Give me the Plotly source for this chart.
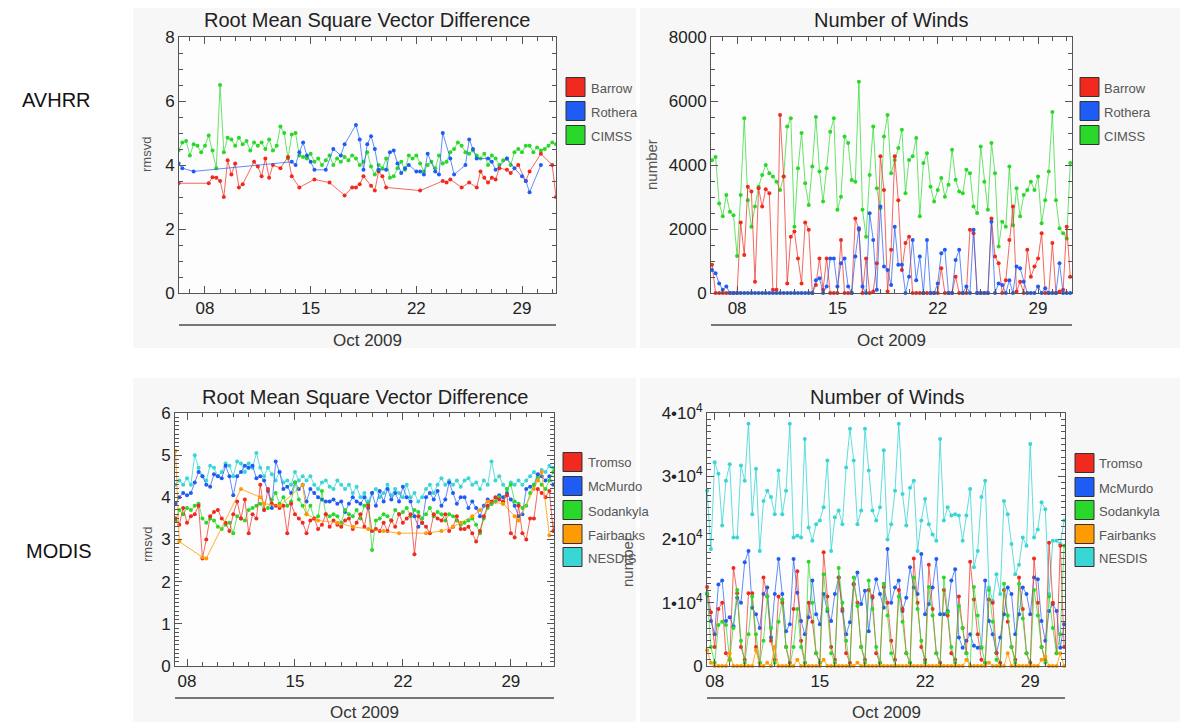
import plotly.graph_objects as go
import pandas as pd
from datetime import datetime, timedelta

# ------------------------------------------------------------------ DATA
# AVHRR, 6-hourly from 2009-10-06 06Z to 2009-10-31 06Z (101 samples)
avhrr_time = pd.date_range("2009-10-06 06:00", periods=101, freq="6h")

avhrr_barrow_rmsvd = [
    3.43, None, None,
    None, None, None, None,
    None, 3.43, 3.62, 3.6,
    3.5, 3.0, 4.15, 3.7,
    4.05, 3.3, 3.4, None,
    None, 4.1, 3.95, 3.65,
    4.2, 3.6, 4.0, None,
    3.9, None, 4.25, 3.65,
    None, 3.3, None, None,
    None, 3.55, None, None,
    None, 3.45, None, None,
    None, 3.05, None, 3.3,
    3.3, 3.4, 3.65, None,
    3.35, 3.2, 3.8, 3.65,
    3.3, None, None, None,
    None, None, None, None,
    None, 3.2, None, None,
    None, None, None, 3.5,
    3.45, 3.55, None, None,
    3.3, None, 3.45, None,
    3.3, 3.8, 3.6, 3.45,
    3.6, 3.55, 3.9, None,
    3.85, 3.75, None, 4.0,
    None, 3.5, 3.8, None,
    None, 4.35, None, None,
    4.0, 3.0,
]
avhrr_rothera_rmsvd = [
    4.05, 3.9, None,
    None, 3.8, None, None,
    None, None, None, None,
    None, None, None, None,
    None, None, None, None,
    None, None, None, None,
    None, None, None, None,
    None, None, None, 4.1,
    4.0, 4.4, 4.7, 4.3,
    4.1, 3.85, None, None,
    3.85, None, 4.5, None,
    4.3, 4.65, None, None,
    5.25, 4.8, 3.85, 4.65,
    4.9, 4.5, 3.85, None,
    3.85, 4.4, 4.45, 4.05,
    3.75, 3.9, 4.0, None,
    3.8, 3.8, 3.7, 4.35,
    None, 3.8, 3.7, 5.0,
    None, 4.2, 3.7, None,
    None, 4.0, 4.8, 4.5,
    4.2, None, None, 4.2,
    4.1, 3.85, None, None,
    4.2, None, 3.9, None,
    3.65, 3.5, 3.15, None,
    None, 4.0, None, None,
    None, None,
]
avhrr_cimss_rmsvd = [
    4.45, 4.7, 4.75,
    4.3, 4.65, 4.6, 4.4,
    4.6, 4.92, 4.45, 3.9,
    6.5, 4.4, 4.85, 4.8,
    4.6, 4.85, 4.65, 4.75,
    4.45, 4.7, 4.6, 4.7,
    4.5, 4.8, 4.45, 4.6,
    5.2, 5.0, 4.2, 4.95,
    5.0, 4.3, 4.25, 4.2,
    4.35, 4.1, 4.2, 4.0,
    4.15, 4.3, 4.0, 4.2,
    4.1, 4.25, 4.15, 4.3,
    4.2, 4.0, 4.1, 4.4,
    3.95, 3.7, 4.0, 3.9,
    4.2, 3.6, 3.65, 3.9,
    4.1, 3.85, 4.3, 4.2,
    4.3, 4.05, 3.8, 4.0,
    4.1, 3.9, 4.3, 4.05,
    4.1, 4.4, 4.5, 4.7,
    4.6, 4.4, 4.35, 4.45,
    4.3, 4.2, 4.35, 4.0,
    4.3, 4.2, 4.0, 4.15,
    4.2, 4.0, 4.4, 4.5,
    4.4, 4.6, 4.6, 4.4,
    4.55, 4.45, 4.5, 4.6,
    4.7, 4.65,
]

avhrr_barrow_num = [
    880, 0, 0,
    0, 0, 0, 0,
    0, 2200, 1190, 3320,
    3170, 350, 3270, 2700,
    3240, 3120, 100, 100,
    5560, 3640, 300, 1760,
    1920, 1080, 300, 2200,
    1980, 0, 250, 1080,
    100, 1080, 0, 0,
    0, 1660, 0, 0,
    0, 2330, 1980, 0,
    1080, 0, 50, 930,
    4270, 3220, 50, 1350,
    4270, 2900, 720, 1560,
    1760, 0, 0, 0,
    0, 0, 0, 0,
    0, 770, 0, 0,
    0, 510, 0, 0,
    0, 1980, 1870, 0,
    0, 0, 0, 2330,
    1140, 930, 0, 400,
    1660, 2700, 50, 350,
    0, 1350, 510, 830,
    1080, 1870, 0, 0,
    1560, 0, 50, 100,
    2070, 510,
]
avhrr_rothera_num = [
    720, 620, 300,
    100, 200, 0, 0,
    0, 0, 0, 0,
    0, 0, 0, 0,
    0, 0, 0, 0,
    0, 0, 0, 0,
    0, 0, 0, 0,
    0, 0, 400, 460,
    0, 200, 1080, 1080,
    200, 930, 1080, 200,
    0, 1140, 2020, 200,
    0, 2490, 1660, 100,
    2700, 830, 720, 250,
    2070, 880, 880, 0,
    510, 1660, 400, 1140,
    0, 1660, 0, 0,
    300, 1240, 1350, 0,
    0, 1030, 1350, 0,
    200, 0, 1980, 0,
    0, 0, 0, 2230,
    0, 300, 250, 0,
    400, 0, 830, 770,
    350, 0, 0, 0,
    200, 0, 150, 0,
    0, 0, 930, 0,
    0, 0,
]
avhrr_cimss_num = [
    4150, 4250, 2800,
    2400, 3060, 2540, 2430,
    1160, 3060, 5460, 2900,
    2070, 2700, 3320, 3690,
    4000, 3740, 3640, 3480,
    3220, 3640, 5200, 5460,
    2070, 3900, 5000, 3430,
    2750, 3950, 5500, 3800,
    2860, 3900, 5040, 5460,
    2600, 3010, 4890, 4690,
    3530, 3480, 6600, 2600,
    1760, 3690, 5200, 3270,
    2650, 4890, 5560, 3740,
    4160, 4530, 5100, 3120,
    4160, 4270, 4840, 2400,
    4060, 4370, 3320, 2860,
    3220, 3590, 3010, 3380,
    4480, 3540, 3170, 3120,
    3850, 3740, 2700, 2500,
    4580, 3480, 2600, 4690,
    3740, 1450, 2230, 2070,
    3950, 2120, 3270, 2400,
    3060, 3220, 3480, 3220,
    3640, 2180, 2900, 3800,
    5660, 2900, 2020, 1870,
    1700, 4060,
]

# MODIS rmsvd, 6-hourly from 2009-10-07 06Z (100 samples)
modis_rms_time = pd.date_range("2009-10-07 06:00", periods=100, freq="6h")

modis_tromso_rmsvd = [
    3.5, 3.35, 3.75, 3.4, 3.55, 3.6, 3.8, 2.55, 3.0, 3.55,
    3.65, 3.7, 3.5, 3.4, 3.2, 3.6, 3.9, 3.5, 3.95, 3.15,
    3.6, 3.5, 4.3, 3.7, 4.2, 3.85, 3.8, 3.75, 3.8, 3.15,
    3.85, 3.6, 3.5, 3.4, 3.15, 3.45, 3.5, 3.25, 3.35, 3.6,
    3.3, 3.45, 3.35, 3.3, 3.45, 3.5, 3.25, 3.4, 3.6, 3.3,
    3.8, 3.2, 3.25, 3.2, 3.4, 3.2, 3.45, 3.3, 3.6, 3.4,
    3.5, 3.6, 2.65, 3.55, 3.4, 3.3, 3.15, 3.6, 3.5, 3.45,
    3.6, 3.2, 3.3, 3.55, 3.25, 3.25, 3.3, 3.15, 2.95, 3.2,
    3.55, 3.8, 3.9, 4.0, 3.95, 3.9, 4.05, 3.15, 3.05, 3.8,
    3.15, 3.0, 3.5, 3.5, 4.2, 4.1, 4.0, 4.15, 3.2, 4.0,
]
modis_mcmurdo_rmsvd = [
    3.85, 4.0, 4.1, 4.05, 4.1, 4.35, 4.6, 4.5, 4.3, 4.25,
    4.55, 4.5, 4.45, 4.75, 4.5, 4.05, 4.5, 4.6, 4.75, 4.7,
    4.75, 4.45, 4.5, 4.4, 4.15, 3.75, 4.85, 4.6, 4.2, 4.25,
    4.1, 4.35, 4.2, 4.3, 3.9, 4.2, 4.1, 4.0, 3.95, 3.9,
    3.9, 3.95, 3.85, 3.9, 3.65, 3.85, 4.0, 3.9, 3.85, 4.0,
    3.75, 4.1, 3.8, 4.15, 3.9, 4.2, 3.95, 4.1, 3.9, 4.25,
    4.0, 3.9, 3.55, 3.3, 3.4, 4.0, 4.1, 3.95, 4.15, 3.8,
    3.95, 4.35, 4.1, 3.85, 4.0, 4.0, 3.75, 3.9, 3.75, 3.55,
    3.8, 3.95, 3.85, 3.9, 4.05, 4.0, 4.1, 3.95, 3.8, 3.55,
    3.6, 4.2, 4.25, 4.3, 4.55, 4.5, 4.4, 4.5, 4.3, 4.2,
]
modis_sodankyla_rmsvd = [
    3.45, 3.7, 3.6, 3.75, 3.7, 3.8, 3.85, 3.5, 3.4, 3.5,
    3.45, 3.3, 3.25, 3.35, 3.4, 3.15, 3.55, 3.5, 3.45, 3.7,
    3.75, 3.8, 3.85, 3.7, 3.75, 3.95, 4.1, 3.85, 4.0, 3.8,
    3.9, 4.35, 3.95, 3.8, 3.6, 3.8, 3.5, 3.55, 4.15, 3.6,
    3.55, 3.6, 3.55, 3.4, 3.7, 3.6, 3.55, 3.7, 3.5, 3.8,
    3.85, 2.75, 3.45, 3.5, 3.6, 3.55, 3.45, 3.7, 3.6, 3.65,
    3.75, 3.55, 3.7, 3.65, 3.5, 3.6, 3.75, 3.55, 3.65, 3.6,
    3.45, 3.6, 3.55, 3.45, 3.35, 3.4, 3.45, 3.5, 3.35, 3.15,
    3.5, 3.75, 3.85, 3.9, 4.0, 3.85, 4.2, 4.3, 3.9, 3.85,
    3.75, 3.8, 4.1, 4.3, 4.45, 4.3, 4.2, 4.4, 4.6, 5.0,
]
modis_fairbanks_rmsvd = [
    5.1, 2.95, None, None, None, None, None, 2.58, 2.55, None,
    None, None, None, None, None, None, None, 4.2, None, None,
    None, None, 4.0, 3.85, None, None, None, 3.8, None, None,
    None, None, None, 4.3, 3.6, None, None, 3.45, None, None,
    None, None, 3.4, None, None, None, 3.3, None, None, None,
    3.25, None, None, None, 3.2, None, None, None, 3.15, None,
    None, None, None, None, None, 3.15, None, None, None, 3.2,
    None, None, 3.3, None, 3.4, None, None, 3.55, None, 3.7,
    None, 3.9, None, None, None, 3.85, None, None, 3.55, 3.45,
    None, None, None, 4.2, 4.4, 4.6, None, 3.1, None, None,
]
modis_nesdis_rmsvd = [
    4.3, 4.4, 4.3, 4.45, 4.3, 5.0, 4.7, 4.5, 4.4, 4.75,
    4.7, 4.5, 4.6, 4.8, 4.75, 4.5, 4.85, 4.8, 4.6, 4.8,
    4.7, 5.05, 4.7, 4.5, 4.7, 4.55, 4.4, 4.6, 4.35, 4.4,
    4.3, 4.6, 4.4, 4.5, 4.4, 4.5, 4.3, 4.2, 4.35, 4.4,
    4.25, 4.2, 4.4, 4.3, 4.2, 4.3, 4.1, 4.25, 4.0, 4.1,
    3.9, 4.1, 4.2, 4.0, 4.1, 4.3, 4.05, 4.2, 4.1, 4.0,
    4.3, 4.0, 4.1, 3.9, 4.0, 4.2, 4.3, 4.1, 4.3, 4.45,
    4.3, 4.4, 4.3, 4.4, 4.25, 4.4, 4.45, 4.3, 4.35, 4.2,
    4.4, 4.3, 4.85, 4.4, 4.5, 4.3, 4.2, 4.35, 4.3, 4.4,
    4.3, 4.4, 4.5, 4.6, 4.5, 4.65, 4.6, 4.75, 4.7, 4.8,
]

# MODIS number of winds (units of 10^4), 6-hourly from 2009-10-07 12Z (96 samples)
modis_num_time = pd.date_range("2009-10-07 12:00", periods=96, freq="6h")

modis_tromso_num = [
    1.25, 0.85,
    0.3, 0.9, 1.0, 0.2,
    0.1, 1.55, 1.15, 0.3,
    0.1, 1.15, 1.15, 0.3,
    0.05, 1.4, 1.1, 0.4,
    0.1, 1.1, 1.0, 0.3,
    0.05, 0.9, 1.5, 0.4,
    0.05, 1.0, 0.7, 0.2,
    0.05, 1.8, 1.1, 0.3,
    0.1, 1.4, 0.9, 0.2,
    0.05, 1.3, 1.0, 0.3,
    0.1, 1.2, 1.1, 0.2,
    0.05, 1.25, 1.0, 0.4,
    0.1, 1.2, 0.9, 0.2,
    0.05, 1.7, 1.0, 0.3,
    0.1, 1.6, 0.9, 0.2,
    0.05, 1.2, 0.8, 0.2,
    0.1, 1.1, 0.6, 0.2,
    1.65, 1.05, 0.5, 0.1,
    0.05, 1.05, 1.0, 0.2,
    0.05, 1.2, 0.7, 0.3,
    0.1, 1.4, 0.9, 0.2,
    0.05, 1.7, 1.0, 0.3,
    0.1, 1.95, 1.0, 0.2,
    1.9, 0.3,
]
modis_mcmurdo_num = [
    1.14, 0.71, 0.5, 1.29, 1.35, 0.71, 0.77, 0.63, 1.08, 1.0,
    1.64, 1.82, 0.92, 0.82, 0.6, 1.14, 1.24, 0.45, 1.14, 1.69,
    1.14, 0.55, 0.66, 1.69, 1.16, 0.71, 0.5, 0.77, 1.35, 0.82,
    0.66, 1.14, 0.87, 0.71, 1.14, 1.4, 0.87, 0.5, 0.69, 1.29,
    1.48, 0.98, 1.19, 0.55, 1.08, 1.37, 1.14, 0.92, 1.85, 1.0,
    1.24, 1.35, 0.87, 1.08, 1.56, 1.24, 1.14, 1.77, 0.82, 0.98,
    1.24, 1.69, 0.82, 0.82, 0.87, 1.35, 1.53, 0.45, 0.29, 0.4,
    0.5, 0.32, 0.29, 0.29, 1.35, 0.71, 0.5, 0.21, 0.45, 0.82,
    1.24, 1.14, 0.5, 0.82, 1.24, 1.14, 0.82, 1.4, 1.37, 0.71,
    0.4, 0.87, 0.98, 0.87, 0.29, 0.66,
]
modis_sodankyla_num = [
    1.15, 0.3,
    0.05, 0.65, 0.7, 0.65,
    0.1, 0.6, 1.2, 0.4,
    0.05, 0.5, 1.1, 0.5,
    0.05, 0.4, 1.1, 0.6,
    0.05, 0.7, 1.05, 0.3,
    0.0, 0.3, 0.9, 0.3,
    0.05, 1.65, 1.0, 0.2,
    0.05, 1.45, 0.9, 0.2,
    0.05, 1.55, 1.0, 0.4,
    0.0, 1.4, 0.95, 0.3,
    0.05, 1.35, 0.9, 0.3,
    0.05, 1.3, 0.8, 0.2,
    0.0, 1.1, 0.7, 0.2,
    0.05, 1.4, 0.9, 0.4,
    0.05, 1.25, 0.8, 0.2,
    0.0, 1.4, 0.85, 0.3,
    0.05, 0.95, 0.6, 0.2,
    0.0, 1.25, 0.8, 0.3,
    0.05, 1.2, 0.7, 0.1,
    0.0, 1.3, 0.8, 0.3,
    0.05, 1.3, 0.75, 0.2,
    0.0, 1.2, 0.8, 0.3,
    0.05, 1.1, 0.6, 0.2,
    0.5, 1.9,
]
modis_fairbanks_num = [
    0.25, 0.05,
    0, 0, 0, 0,
    0.2, 0, 0, 0,
    0, 0, 0, 0.25,
    0, 0, 0.05, 0,
    0.3, 0, 0, 0,
    0, 0, 0.1, 0,
    0, 0, 0, 0,
    0, 0.1, 0, 0,
    0, 0, 0, 0,
    0, 0, 0.05, 0,
    0, 0, 0, 0,
    0, 0, 0, 0,
    0, 0, 0, 0,
    0, 0, 0, 0,
    0, 0, 0, 0,
    0, 0, 0, 0,
    0, 0, 0, 0.1,
    0, 0, 0, 0,
    0, 0.05, 0, 0,
    0, 0, 0.2, 0,
    0, 0, 0, 0,
    0, 0, 0, 0.1,
    0.15, 0, 0, 0,
    0.2, 0,
]
modis_nesdis_num = [
    2.77, 1.85, 3.22, 3.04, 2.22, 2.93, 3.19, 2.03, 2.03, 3.17,
    2.93, 3.83, 2.4, 3.12, 1.82, 2.61, 2.77, 2.67, 2.4, 3.09,
    2.4, 2.77, 3.83, 2.03, 2.06, 2.03, 3.59, 2.19, 1.98, 2.24,
    2.3, 2.51, 3.25, 1.82, 2.35, 2.46, 2.24, 3.14, 3.75, 3.25,
    2.24, 2.46, 3.75, 3.09, 2.46, 2.3, 2.51, 3.41, 2.0, 2.24,
    2.77, 3.83, 2.72, 2.22, 2.82, 2.93, 1.82, 2.3, 2.64, 2.24,
    2.08, 1.98, 3.59, 2.3, 2.51, 2.38, 2.4, 2.38, 1.98, 2.38,
    2.8, 1.56, 1.82, 2.67, 2.93, 1.24, 1.03, 1.45, 1.14, 2.61,
    2.4, 1.93, 1.45, 1.6, 2.03, 1.9, 3.51, 2.03, 2.16, 2.59,
    2.48, 1.14, 1.98, 1.98, 1.93, 2.3,
]

avhrr_names = ["Barrow", "Rothera", "CIMSS"]
modis_names = ["Tromso", "McMurdo", "Sodankyla", "Fairbanks", "NESDIS"]
num_tickvals = [0, 1, 2, 3, 4]
num_ticktext = ["0", "1•10<sup>4</sup>", "2•10<sup>4</sup>", "3•10<sup>4</sup>", "4•10<sup>4</sup>"]

# ------------------------------------------------------------------ STYLE
RED, BLUE, GREEN, ORANGE, CYAN = "#f02a1e", "#1f5cf5", "#2ad82a", "#ff9a00", "#3ad6d6"
LINE_RGBA = {RED: "rgba(240,42,30,0.7)", BLUE: "rgba(31,92,245,0.7)",
             GREEN: "rgba(42,216,42,0.7)", ORANGE: "rgba(255,154,0,0.8)",
             CYAN: "rgba(58,214,214,0.8)"}
FONT = "Liberation Sans, Arial, Helvetica, sans-serif"
# The page body has an 8 px margin, so the figure is 8 px smaller and all
# page-pixel positions below are shifted by that offset.
OFF = 8
W, H = 1188 - OFF, 722 - OFF
AX = "#555555"


def px(x):
    return (x - OFF) / W


def py(y):
    return 1 - (y - OFF) / H


def dday(d):
    return (datetime(2009, 10, 1) + timedelta(days=d - 1)).strftime("%Y-%m-%d %H:%M:%S")


fig = go.Figure()


def add(xs, ys, color, n, clip):
    assert len(xs) == len(ys), (len(xs), len(ys))
    fig.add_trace(go.Scatter(
        x=list(xs), y=ys, mode="lines+markers", connectgaps=True,
        line=dict(color=LINE_RGBA[color], width=1),
        marker=dict(color=color, size=4),
        xaxis="x" + ("" if n == 1 else str(n)),
        yaxis="y" + ("" if n == 1 else str(n)),
        cliponaxis=clip, showlegend=False, hoverinfo="skip"))


# panel 1: AVHRR rmsvd
add(avhrr_time, avhrr_cimss_rmsvd, GREEN, 1, True)
add(avhrr_time, avhrr_barrow_rmsvd, RED, 1, True)
add(avhrr_time, avhrr_rothera_rmsvd, BLUE, 1, True)
# panel 2: AVHRR number
add(avhrr_time, avhrr_cimss_num, GREEN, 2, False)
add(avhrr_time, avhrr_barrow_num, RED, 2, False)
add(avhrr_time, avhrr_rothera_num, BLUE, 2, False)
# panel 3: MODIS rmsvd
add(modis_rms_time, modis_nesdis_rmsvd, CYAN, 3, True)
add(modis_rms_time, modis_mcmurdo_rmsvd, BLUE, 3, True)
add(modis_rms_time, modis_sodankyla_rmsvd, GREEN, 3, True)
add(modis_rms_time, modis_tromso_rmsvd, RED, 3, True)
add(modis_rms_time, modis_fairbanks_rmsvd, ORANGE, 3, True)
# panel 4: MODIS number
add(modis_num_time, modis_nesdis_num, CYAN, 4, False)
add(modis_num_time, modis_mcmurdo_num, BLUE, 4, False)
add(modis_num_time, modis_tromso_num, RED, 4, False)
add(modis_num_time, modis_sodankyla_num, GREEN, 4, False)
add(modis_num_time, modis_fairbanks_num, ORANGE, 4, False)

# plot boxes (page pixels): left, right, top, bottom, first day, last day
boxes = {
    1: (179, 556, 37, 293, 6.28, 31.25),
    2: (711, 1072, 37, 293, 6.18, 31.37),
    3: (175, 554, 413, 666, 7.22, 31.8),
    4: (707, 1065, 413, 666, 7.49, 31.31),
}
yset = {
    1: dict(range=[0, 8], dtick=2, minor=0.5),
    2: dict(range=[0, 8000], dtick=2000, minor=500),
    3: dict(range=[0, 6], dtick=1, minor=0.1),
    4: dict(range=[0, 4], dtick=1, minor=0.1),
}

lay = {}
for n, (l, r, t, b, d0, d1) in boxes.items():
    sx = "" if n == 1 else str(n)
    lay["xaxis" + sx] = dict(
        domain=[px(l), px(r)], anchor="y" + sx, type="date", automargin=False,
        range=[dday(d0), dday(d1)], tickformat="%d",
        tick0="2009-10-08", dtick=7 * 86400000,
        ticks="inside", ticklen=7, tickcolor=AX, showline=True, linecolor=AX,
        linewidth=1, mirror="ticks", showgrid=False, zeroline=False,
        minor=dict(ticks="inside", ticklen=4, dtick=86400000,
                   tick0="2009-10-08", tickcolor=AX, showgrid=False),
        tickfont=dict(family=FONT, size=17, color="#222"))
    ys = yset[n]
    yax = dict(
        domain=[py(b), py(t)], anchor="x" + sx, range=ys["range"], automargin=False,
        ticks="inside", ticklen=7, tickcolor=AX, showline=True, linecolor=AX,
        linewidth=1, mirror="ticks", showgrid=False, zeroline=False,
        minor=dict(ticks="inside", ticklen=4, tickmode="linear", tick0=0,
                   dtick=ys["minor"], tickcolor=AX, showgrid=False),
        tickfont=dict(family=FONT, size=17, color="#222"))
    if n == 4:
        yax.update(tickmode="array", tickvals=num_tickvals, ticktext=num_ticktext)
    else:
        yax.update(tickmode="linear", tick0=0, dtick=ys["dtick"])
    lay["yaxis" + sx] = yax

shapes = []
annotations = []

# light panel backgrounds
for (x0, x1, y0, y1) in [(133, 636, 8, 348), (640, 1188, 8, 348),
                         (133, 636, 378, 722), (640, 1188, 378, 722)]:
    shapes.append(dict(type="rect", xref="paper", yref="paper", layer="below",
                       x0=px(x0), x1=px(x1), y0=py(y1), y1=py(y0),
                       fillcolor="#f7f7f7", line=dict(width=0)))
# near-white plot interiors
for (l, r, t, b, d0, d1) in boxes.values():
    shapes.append(dict(type="rect", xref="paper", yref="paper", layer="below",
                       x0=px(l), x1=px(r), y0=py(b), y1=py(t),
                       fillcolor="#fdfdfd", line=dict(width=0)))


def text(x, y, s, size, color="#222", angle=0, xanchor="center"):
    annotations.append(dict(x=px(x), y=py(y), xref="paper", yref="paper", text=s,
                            showarrow=False, xanchor=xanchor, yanchor="middle",
                            textangle=angle,
                            font=dict(family=FONT, size=size, color=color)))


# titles
text(367, 20, "Root Mean Square Vector Difference", 20)
text(891, 20, "Number of Winds", 20)
text(365, 397, "Root Mean Square Vector Difference", 20)
text(887, 397, "Number of Winds", 20)

# date lines & labels
for (l, r, yline, ylab) in [(179, 556, 325, 340), (711, 1072, 325, 340),
                            (175, 554, 698, 712), (707, 1065, 698, 712)]:
    shapes.append(dict(type="line", xref="paper", yref="paper",
                       x0=px(l), x1=px(r), y0=py(yline), y1=py(yline),
                       line=dict(color="#777", width=2)))
    text((l + r) / 2, ylab, "Oct 2009", 17, "#333")

# y titles
text(147, 155, "rmsvd", 13, "#555", -90)
text(651, 165, "number", 15, "#555", -90)
text(147, 545, "rmsvd", 13, "#555", -90)
text(627, 562, "number", 15, "#555", -90)

# instrument labels
text(56, 100, "AVHRR", 20, "#111")
text(59, 551, "MODIS", 20, "#111")


# legends
def legend(x0, ycs, names, colors, tx, size=19):
    for yc, nm, c in zip(ycs, names, colors):
        shapes.append(dict(type="rect", xref="paper", yref="paper",
                           x0=px(x0), x1=px(x0 + size), y0=py(yc + size / 2),
                           y1=py(yc - size / 2), fillcolor=c,
                           line=dict(color="#333", width=1)))
        text(tx, yc + 1, nm, 13, "#555", 0, "left")


legend(566, [87, 111, 135], avhrr_names, [RED, BLUE, GREEN], 589)
legend(1080, [87, 111, 135], avhrr_names, [RED, BLUE, GREEN], 1102)
legend(563, [462, 486, 510, 534, 557], modis_names, [RED, BLUE, GREEN, ORANGE, CYAN], 586)
legend(1075, [463, 487, 510, 534, 557], modis_names, [RED, BLUE, GREEN, ORANGE, CYAN], 1097)

fig.update_layout(
    width=W, height=H, margin=dict(l=0, r=0, t=0, b=0, autoexpand=False),
    paper_bgcolor="white", plot_bgcolor="rgba(0,0,0,0)", showlegend=False,
    shapes=shapes, annotations=annotations, **lay)

fig.write_html("out.html")
